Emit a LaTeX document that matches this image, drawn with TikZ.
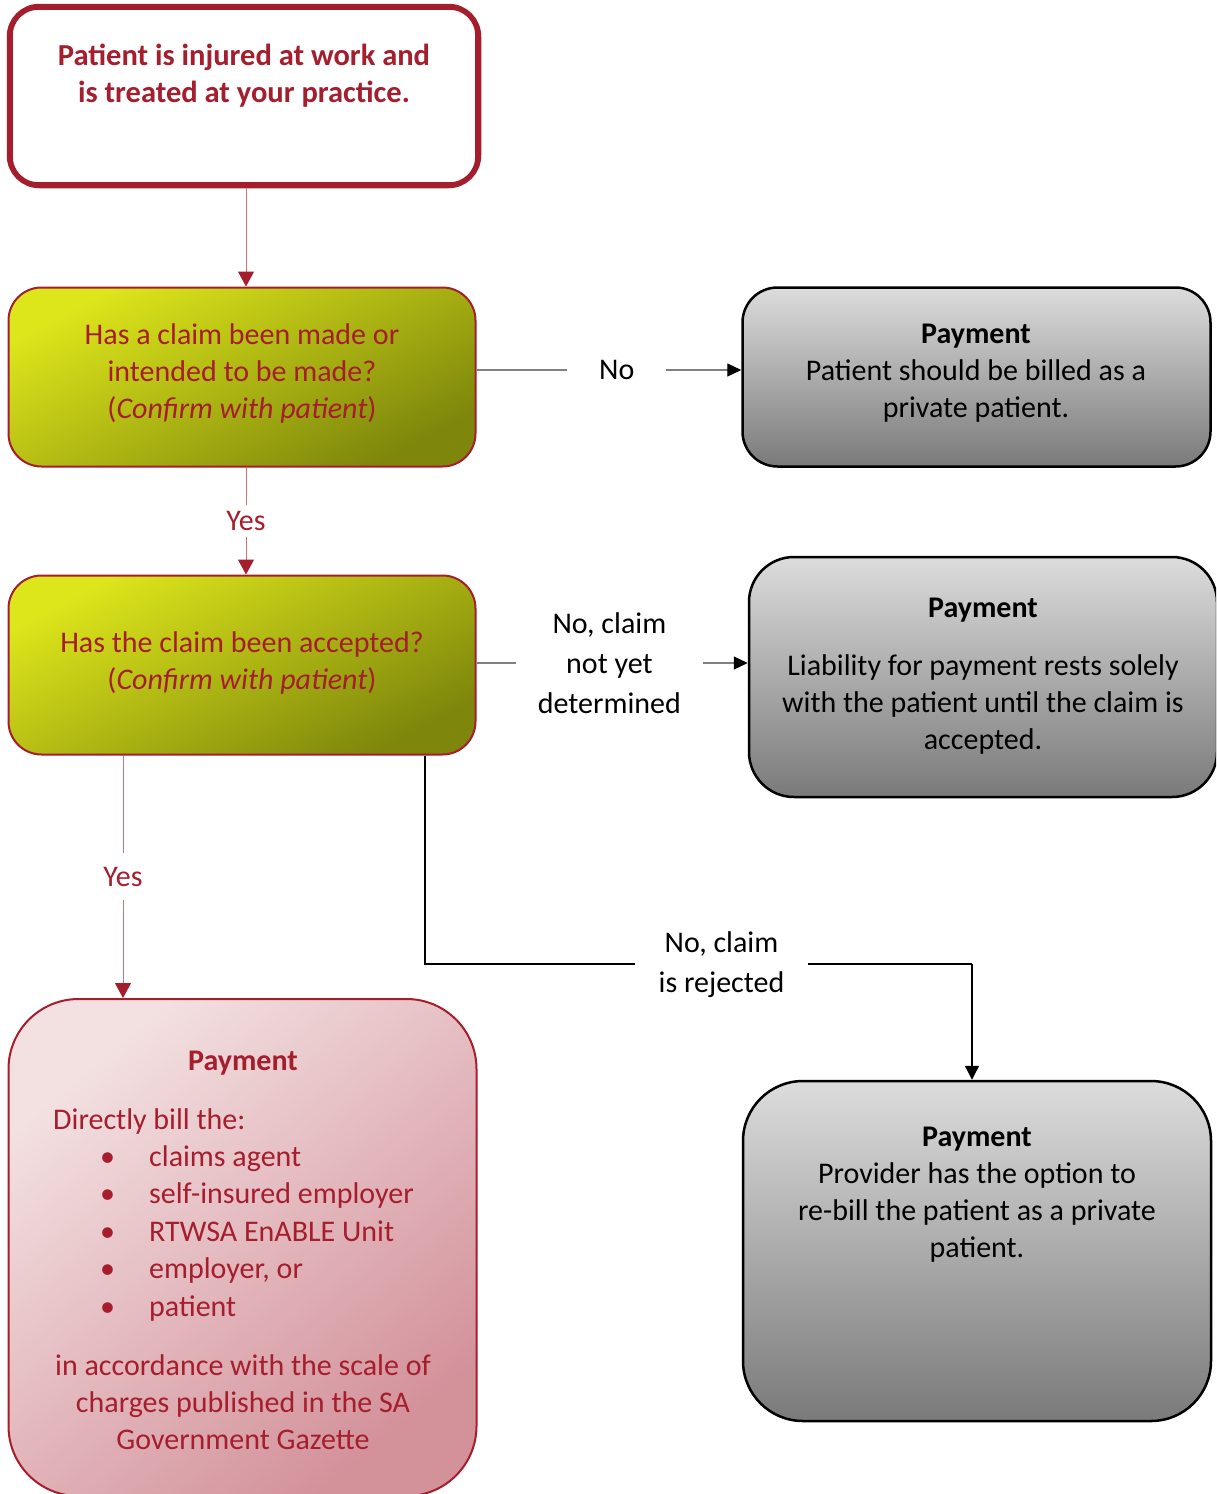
\documentclass[tikz,border=0pt]{standalone}
\usepackage{fontspec}
\setmainfont{Carlito}
\usetikzlibrary{arrows.meta}
\definecolor{wred}{HTML}{A51E2D}
\definecolor{wline}{HTML}{C9737C}
\definecolor{gTL}{HTML}{DDE51B}
\definecolor{gBR}{HTML}{7E870B}
\definecolor{kTop}{HTML}{DCDCDC}
\definecolor{kBot}{HTML}{7A7A7A}
\definecolor{pTL}{HTML}{F3E1E2}
\definecolor{pBR}{HTML}{D3919A}
\definecolor{glink}{HTML}{808080}
\begin{document}
\begin{tikzpicture}[x=1pt,y=-1pt,
  every node/.style={font=\fontsize{30}{37}\selectfont},
  topbox/.style={draw=wred, line width=5.5pt, rounded corners=30pt, minimum width=469pt, minimum height=179pt, fill=white, inner sep=0pt},
  greenbox/.style={draw=wred, line width=2pt, rounded corners=33pt, minimum width=467pt, minimum height=179pt, top color=gTL, bottom color=gBR, shading angle=28, inner sep=0pt},
  greybox/.style={draw=black, line width=2.5pt, top color=kTop, bottom color=kBot, inner sep=0pt, minimum width=468pt},
  pinkbox/.style={draw=wred, line width=2pt, rounded corners=70pt, minimum width=468pt, minimum height=497pt, top color=pTL, bottom color=pBR, shading angle=40, inner sep=0pt},
  redtxt/.style={text=wred, align=center, inner sep=0pt},
  blktxt/.style={text=black, align=center, inner sep=0pt},
  redarrow/.style={draw=wline, line width=1pt, -{Triangle[length=15pt,width=16pt,color=wred]}},
  greyarrow/.style={draw=glink, line width=1.2pt, -{Triangle[length=14pt,width=13pt,color=black]}},
  lbl/.style={fill=white, inner xsep=12pt, inner ysep=6pt}
]
\useasboundingbox (0,0) rectangle (1216,1494);
\clip (0,0) rectangle (1216,1494);
\fill[white] (0,0) rectangle (1216,1494);

% boxes
\node[topbox] (top) at (244,96) {};
\draw[wred, line width=1.3pt, rounded corners=25pt] ([shift={(5.5,5.5)}]top.north west) rectangle ([shift={(-5.5,-5.5)}]top.south east);
\node[greenbox] (g1) at (242,377) {};
\node[greenbox] (g2) at (242,665) {};
\node[greybox, rounded corners=35pt, minimum height=179pt] (k1) at (976.5,377) {};
\node[greybox, rounded corners=45pt, minimum height=240pt] (k2) at (983,677) {};
\node[greybox, rounded corners=60pt, minimum height=340pt] (k3) at (977,1251) {};
\node[pinkbox] (pk) at (242.5,1247.5) {};

% texts
\node[redtxt, font=\bfseries\fontsize{30.5}{37}\selectfont] (toptxt) at (244,75.5) {Patient is injured at work and\\is treated at your practice.};
\node[redtxt] (g1txt) at (242,373) {Has a claim been made or\\intended to be made?\\(\textit{Confirm with patient})};
\node[redtxt] (g2txt) at (242,663) {Has the claim been accepted?\\(\textit{Confirm with patient})};
\node[blktxt] (k1txt) at (976,373.5) {\textbf{Payment}\\Patient should be billed as a\\private patient.};
\node[blktxt] (k2txt) at (983,676) {\textbf{Payment}\\[21pt]Liability for payment rests solely\\with the patient until the claim is\\accepted.};
\node[blktxt] (k3txt) at (977,1195) {\textbf{Payment}\\Provider has the option to\\re-bill the patient as a private\\patient.};
\node[redtxt, font=\bfseries\fontsize{30}{37}\selectfont] (pktitle) at (243,1063) {Payment};
\node[redtxt, anchor=west] (pkintro) at (53,1121) {Directly bill the:};
\node[redtxt, anchor=west, align=left, font=\fontsize{30}{37.5}\selectfont] (pklist) at (100,1233) {\makebox[49pt][l]{\textbullet}claims agent\\\makebox[49pt][l]{\textbullet}self-insured employer\\\makebox[49pt][l]{\textbullet}RTWSA EnABLE Unit\\\makebox[49pt][l]{\textbullet}employer, or\\\makebox[49pt][l]{\textbullet}patient};
\node[redtxt] (pkfoot) at (243,1402) {in accordance with the scale of\\charges published in the SA\\Government Gazette};

% connectors
\coordinate (ax) at (246,0);
\draw[redarrow] (top.south -| ax) -- (g1.north -| ax);
\draw[redarrow] (g1.south -| ax) -- node[lbl, text=wred] (yes1) {Yes} (g2.north -| ax);
\draw[greyarrow] ([yshift=7pt]g1.east) -- node[lbl, inner xsep=32pt, pos=0.53] (no1) {No} ([yshift=7pt]g1.east -| k1.west);
\draw[greyarrow] ([yshift=2pt]g2.east) -- node[lbl, align=center, inner xsep=22pt, font=\fontsize{30}{40}\selectfont, pos=0.49] (no2) {No, claim\\not yet\\determined} ([yshift=2pt]g2.east -| k2.west);
\coordinate (yx) at (123,0);
\draw[redarrow] (g2.south -| yx) -- node[lbl, text=wred, inner ysep=14pt, pos=0.5] (yes2) {Yes} (pk.north -| yx);
\coordinate (rx) at (425,0);
\coordinate (rj) at (972,964);
\draw[black, line width=2.5pt] (g2.south -| rx) |- node[pos=0.771, lbl, align=center, inner xsep=24pt, font=\fontsize{30}{40}\selectfont, yshift=-1pt] (rej) {No, claim\\is rejected} (rj);
\draw[black, line width=1.2pt, -{Triangle[length=14pt,width=14pt]}] (rj) -- (rj |- k3.north);
\end{tikzpicture}
\end{document}
